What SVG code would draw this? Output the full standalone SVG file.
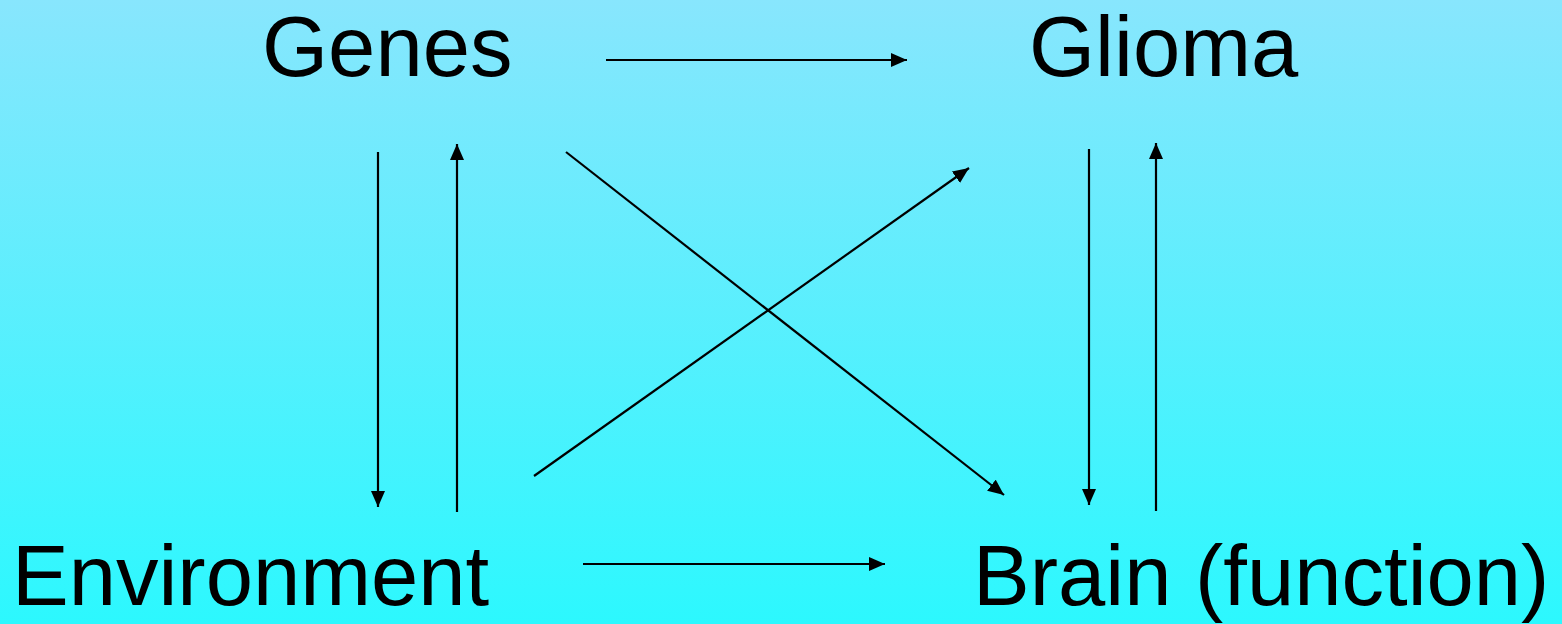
<svg xmlns="http://www.w3.org/2000/svg" width="1562" height="624" viewBox="0 0 1562 624">
<defs>
<linearGradient id="bg" x1="0" y1="0" x2="0" y2="1">
<stop offset="0" stop-color="#88E6FD"/>
<stop offset="1" stop-color="#2CF8FE"/>
</linearGradient>
<marker id="ah" markerUnits="userSpaceOnUse" markerWidth="16" markerHeight="14" refX="16" refY="7" orient="auto">
<path d="M0,0 L16,7 L0,14 Z" fill="#000"/>
</marker>
<style>
.lbl{font-family:"Liberation Sans",Arial,sans-serif;font-size:85px;fill:#000}
.c line{stroke:#000;stroke-width:2.2;marker-end:url(#ah)}
</style>
</defs>
<rect x="0" y="0" width="1562" height="624" fill="url(#bg)"/>
<g id="genes"><text class="lbl" x="262" y="76">Genes</text></g>
<g id="glioma"><text class="lbl" x="1029" y="76">Glioma</text></g>
<g id="environment"><text class="lbl" x="12" y="605">Environment</text></g>
<g id="brain"><text class="lbl" x="973" y="605">Brain (function)</text></g>
<g class="c" id="connectors">
<line x1="606" y1="60" x2="907" y2="60"/>
<line x1="378" y1="152" x2="378" y2="507"/>
<line x1="457" y1="512" x2="457" y2="144"/>
<line x1="566" y1="152" x2="1004" y2="495"/>
<line x1="534" y1="476" x2="969" y2="168"/>
<line x1="1089" y1="149" x2="1089" y2="505"/>
<line x1="1156" y1="511" x2="1156" y2="143"/>
<line x1="583" y1="564" x2="885" y2="564"/>
</g>
</svg>
